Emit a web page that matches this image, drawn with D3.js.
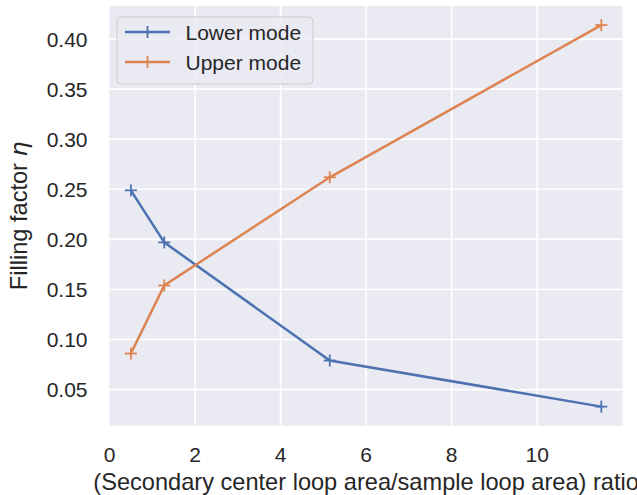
<!DOCTYPE html>
<html>
<head>
<meta charset="utf-8">
<script src="https://cdn.jsdelivr.net/npm/d3@7"></script>
<style>
body { margin: 0; background: #fff; }
text { font-family: "Liberation Sans", Arial, sans-serif; fill: #262626; }
</style>
</head>
<body>
<script>
var ratios = [0.5, 1.28, 5.15, 11.5];
var lowerMode = [0.249, 0.197, 0.079, 0.033];
var upperMode = [0.086, 0.154, 0.262, 0.414];
var seriesNames = ["Lower mode", "Upper mode"];
var seriesColors = ["#4C72B0", "#DD8452"];
var xTicks = [0, 2, 4, 6, 8, 10];
var yTicks = [0.05, 0.10, 0.15, 0.20, 0.25, 0.30, 0.35, 0.40];

var W = 637, H = 495;
var pL = 109.5, pR = 622.7, pT = 6, pB = 425.7;
var tickFs = 21, labelFs = 23.6;

var svg = d3.select("body").append("svg").attr("width", W).attr("height", H);

var all = lowerMode.concat(upperMode);
var ymin = d3.min(all), ymax = d3.max(all), pad = (ymax - ymin) * 0.05;
var x = d3.scaleLinear().domain([0, 12]).range([pL, pR]);
var y = d3.scaleLinear().domain([ymin - pad, ymax + pad]).range([pB, pT]);

svg.append("rect").attr("x", pL).attr("y", pT)
  .attr("width", pR - pL).attr("height", pB - pT).attr("fill", "#EAEAF2");

var grid = svg.append("g").attr("stroke", "#fff").attr("stroke-width", 1.6);
grid.selectAll(".gx").data(xTicks.filter(function(d){ return d > 0; })).enter().append("line")
  .attr("x1", function(d){ return x(d); }).attr("x2", function(d){ return x(d); })
  .attr("y1", pT).attr("y2", pB);
grid.selectAll(".gy").data(yTicks).enter().append("line")
  .attr("y1", function(d){ return y(d); }).attr("y2", function(d){ return y(d); })
  .attr("x1", pL).attr("x2", pR);

svg.selectAll(".xt").data(xTicks).enter().append("text")
  .attr("x", function(d){ return x(d); }).attr("y", 461.5)
  .attr("text-anchor", "middle").style("font-size", tickFs + "px")
  .text(function(d){ return d; });
svg.selectAll(".yt").data(yTicks).enter().append("text")
  .attr("x", 87.5).attr("y", function(d){ return y(d); }).attr("dy", "0.36em")
  .attr("text-anchor", "end").style("font-size", tickFs + "px")
  .text(function(d){ return d.toFixed(2); });

svg.append("text").attr("x", (pL + pR) / 2).attr("y", 489.5)
  .attr("text-anchor", "middle").style("font-size", labelFs + "px")
  .text("(Secondary center loop area/sample loop area) ratio");

var yl = svg.append("text").attr("transform", "translate(27," + ((pT + pB) / 2) + ") rotate(-90)")
  .attr("text-anchor", "middle").style("font-size", labelFs + "px");
yl.append("tspan").text("Filling factor ");
yl.append("tspan").style("font-family", "'DejaVu Sans'").style("font-style", "italic").text("η");

var line = d3.line().x(function(d){ return x(d[0]); }).y(function(d){ return y(d[1]); });
var series = [lowerMode, upperMode].map(function(vals){
  return ratios.map(function(r, i){ return [r, vals[i]]; });
});

function plus(g, cx, cy, color) {
  g.append("line").attr("x1", cx - 6).attr("x2", cx + 6).attr("y1", cy).attr("y2", cy)
    .attr("stroke", color).attr("stroke-width", 1.8);
  g.append("line").attr("x1", cx).attr("x2", cx).attr("y1", cy - 6).attr("y2", cy + 6)
    .attr("stroke", color).attr("stroke-width", 1.8);
}

series.forEach(function(pts, k){
  svg.append("path").datum(pts).attr("d", line).attr("fill", "none")
    .attr("stroke", seriesColors[k]).attr("stroke-width", 2.5);
  var g = svg.append("g");
  pts.forEach(function(p){ plus(g, x(p[0]), y(p[1]), seriesColors[k]); });
});

// legend
var lg = svg.append("g");
lg.append("rect").attr("x", 117).attr("y", 17).attr("width", 196).attr("height", 67)
  .attr("rx", 4).attr("fill", "#EAEAF2").attr("fill-opacity", 0.8).attr("stroke", "#cccccc");
seriesNames.forEach(function(name, k){
  var cy = 32 + k * 30;
  lg.append("line").attr("x1", 125).attr("x2", 170).attr("y1", cy).attr("y2", cy)
    .attr("stroke", seriesColors[k]).attr("stroke-width", 2.5);
  plus(lg, 147.5, cy, seriesColors[k]);
  lg.append("text").attr("x", 185.5).attr("y", cy).attr("dy", "0.36em")
    .style("font-size", tickFs + "px").text(name);
});
</script>
</body>
</html>
